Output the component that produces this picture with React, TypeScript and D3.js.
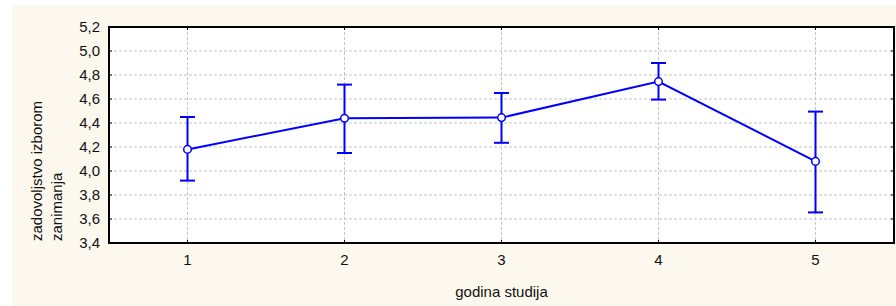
import React from "react";
import * as d3 from "d3";

const width = 896;
const height = 306;
const plot = { left: 109, top: 27, right: 894, bottom: 243 };

// godina studija -> mean with upper/lower whisker
const years = [1, 2, 3, 4, 5];
const means = [4.18, 4.44, 4.445, 4.745, 4.08];
const upper = [4.45, 4.72, 4.65, 4.9, 4.495];
const lower = [3.92, 4.15, 4.235, 4.595, 3.655];
const yTicks = [3.4, 3.6, 3.8, 4.0, 4.2, 4.4, 4.6, 4.8, 5.0, 5.2];

const blue = "#0000ff";
const font = "Liberation Sans, Arial, sans-serif";
const fs = 15;

const App = () => {
  const x = d3.scaleLinear().domain([0.5, 5.5]).range([plot.left, plot.right]);
  const y = d3.scaleLinear().domain([3.4, 5.2]).range([plot.bottom, plot.top]);

  const line = d3
    .line<number>()
    .x((d, i) => x(years[i]))
    .y((d) => y(d));

  const fmt = (v: number) => v.toFixed(1).replace(".", ",");
  const cap = 7.5;

  return (
    <svg
      width={width}
      height={height}
      style={{ position: "absolute", left: 0, top: 0 }}
      fontFamily={font}
    >
      <rect x={0} y={0} width={width} height={height} fill="#ffffff" />
      {/* cream panel behind the chart */}
      <rect x={12} y={6} width={width - 12} height={height - 6} fill="#fdf8ed" />
      <rect
        x={plot.left}
        y={plot.top}
        width={plot.right - plot.left}
        height={plot.bottom - plot.top}
        fill="#ffffff"
      />

      {/* grid */}
      {yTicks.slice(1, -1).map((t) => (
        <line
          key={"gy" + t}
          x1={plot.left}
          x2={plot.right}
          y1={y(t)}
          y2={y(t)}
          stroke="#c4c4c4"
          strokeWidth={1}
          strokeDasharray="3,2"
        />
      ))}
      {years.map((t) => (
        <line
          key={"gx" + t}
          x1={x(t)}
          x2={x(t)}
          y1={plot.top}
          y2={plot.bottom}
          stroke="#c4c4c4"
          strokeWidth={1}
          strokeDasharray="3,2"
        />
      ))}

      {/* ticks inside the frame */}
      {yTicks.map((t) => (
        <g key={"ty" + t}>
          <line x1={plot.left} x2={plot.left + 3} y1={y(t)} y2={y(t)} stroke="#000" />
          <line x1={plot.right - 3} x2={plot.right} y1={y(t)} y2={y(t)} stroke="#000" />
          <text
            x={plot.left - 9}
            y={y(t)}
            dy="0.35em"
            textAnchor="end"
            fontSize={fs}
            fill="#111"
          >
            {fmt(t)}
          </text>
        </g>
      ))}
      {years.map((t) => (
        <g key={"tx" + t}>
          <line x1={x(t)} x2={x(t)} y1={plot.bottom - 3} y2={plot.bottom} stroke="#000" />
          <line x1={x(t)} x2={x(t)} y1={plot.top} y2={plot.top + 3} stroke="#000" />
          <text x={x(t)} y={plot.bottom + 22} textAnchor="middle" fontSize={fs} fill="#111">
            {t}
          </text>
        </g>
      ))}

      {/* frame */}
      <rect
        x={plot.left}
        y={plot.top}
        width={plot.right - plot.left}
        height={plot.bottom - plot.top}
        fill="none"
        stroke="#000"
        strokeWidth={2}
      />

      {/* whiskers */}
      {years.map((t, i) => (
        <g key={"e" + t} stroke={blue} strokeWidth={2}>
          <line x1={x(t)} x2={x(t)} y1={y(upper[i])} y2={y(lower[i])} />
          <line x1={x(t) - cap} x2={x(t) + cap} y1={y(upper[i])} y2={y(upper[i])} />
          <line x1={x(t) - cap} x2={x(t) + cap} y1={y(lower[i])} y2={y(lower[i])} />
        </g>
      ))}

      <path d={line(means) || ""} fill="none" stroke={blue} strokeWidth={2} />
      {years.map((t, i) => (
        <circle
          key={"m" + t}
          cx={x(t)}
          cy={y(means[i])}
          r={3.8}
          fill="#fff"
          stroke={blue}
          strokeWidth={1.5}
        />
      ))}

      {/* axis titles */}
      <text x={x(3)} y={297} textAnchor="middle" fontSize={fs} fill="#111">
        godina studija
      </text>
      <g transform={`translate(42,241) rotate(-90)`}>
        <text x={0} y={0} textAnchor="start" fontSize={fs} fill="#111">
          zadovoljstvo izborom
        </text>
        <text x={0} y={20} textAnchor="start" fontSize={fs} fill="#111">
          zanimanja
        </text>
      </g>
    </svg>
  );
};

export default App;
